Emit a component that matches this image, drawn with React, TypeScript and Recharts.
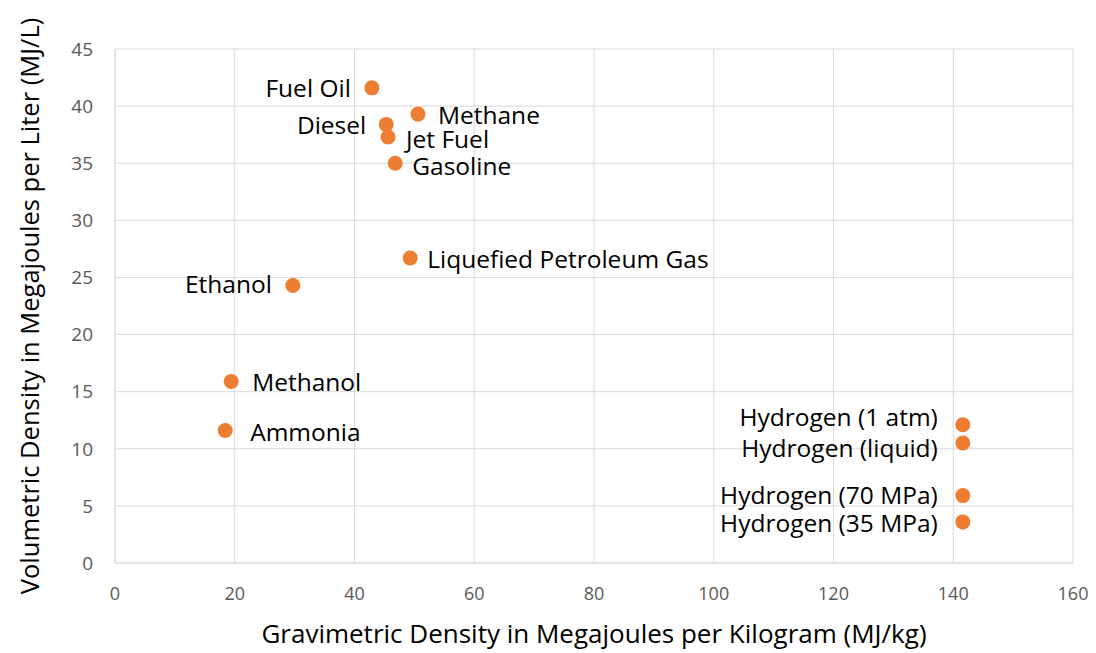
import { ScatterChart, Scatter, XAxis, YAxis, CartesianGrid, LabelList, Label } from 'recharts';

const fuels = [
  'Fuel Oil', 'Methane', 'Diesel', 'Jet Fuel', 'Gasoline', 'Liquefied Petroleum Gas',
  'Ethanol', 'Methanol', 'Ammonia',
  'Hydrogen (1 atm)', 'Hydrogen (liquid)', 'Hydrogen (70 MPa)', 'Hydrogen (35 MPa)',
];
const gravimetric = [42.9, 50.6, 45.3, 45.6, 46.8, 49.3, 29.7, 19.4, 18.4, 141.6, 141.6, 141.6, 141.6];
const volumetric = [41.6, 39.3, 38.4, 37.3, 35.0, 26.7, 24.3, 15.9, 11.6, 12.1, 10.5, 5.9, 3.6];
const xTicks = [0, 20, 40, 60, 80, 100, 120, 140, 160];
const yTicks = [0, 5, 10, 15, 20, 25, 30, 35, 40, 45];

// label placement per point: [dx, dy], negative dx means text sits left of the dot
const labelOffsets: Record<string, [number, number]> = {
  'Fuel Oil': [-21, 0],
  'Methane': [20, 0],
  'Diesel': [-20, 0],
  'Jet Fuel': [18, 2],
  'Gasoline': [17, 2],
  'Liquefied Petroleum Gas': [17, 0],
  'Ethanol': [-21, -2],
  'Methanol': [21, 0],
  'Ammonia': [25, 1],
  'Hydrogen (1 atm)': [-25, -8],
  'Hydrogen (liquid)': [-25, 4],
  'Hydrogen (70 MPa)': [-25, -1],
  'Hydrogen (35 MPa)': [-25, 1],
};

const data = fuels.map((name, i) => ({ name, x: gravimetric[i], y: volumetric[i] }));

const FONT = '"Open Sans", "Liberation Sans", sans-serif';

function PointLabel(props: any) {
  const { x, y, width, height, value } = props;
  const cx = x + width / 2;
  const cy = y + height / 2;
  const [dx, dy] = labelOffsets[value] || [15, 0];
  return (
    <text
      x={cx + dx}
      y={cy + dy}
      textAnchor={dx < 0 ? 'end' : 'start'}
      dominantBaseline="central"
      fontFamily={FONT}
      fontSize={24.5}
      fill="#000"
    >
      {value}
    </text>
  );
}

export default function App() {
  return (
    <div style={{ position: 'absolute', left: 0, top: 0, background: '#fff' }}>
      <ScatterChart width={1096} height={653} margin={{ top: 49, right: 23, bottom: 0, left: 45 }}>
        <CartesianGrid stroke="#d9d9d9" strokeWidth={1} />
        <XAxis
          type="number"
          dataKey="x"
          domain={[0, 160]}
          ticks={xTicks}
          axisLine={{ stroke: '#d9d9d9' }}
          tickLine={false}
          height={90}
          tickMargin={18}
          tick={{ fill: '#595959', fontSize: 18, fontFamily: FONT }}
        >
          <Label
            value="Gravimetric Density in Megajoules per Kilogram (MJ/kg)"
            position="insideBottom"
            offset={10}
            style={{ fill: '#000', fontSize: 26, fontFamily: FONT }}
          />
        </XAxis>
        <YAxis
          type="number"
          dataKey="y"
          domain={[0, 45]}
          ticks={yTicks}
          axisLine={{ stroke: '#d9d9d9' }}
          tickLine={false}
          width={70}
          tickMargin={16}
          tick={{ fill: '#595959', fontSize: 19, fontFamily: FONT }}
        >
          <Label
            value="Volumetric Density in Megajoules per Liter (MJ/L)"
            angle={-90}
            position="insideLeft"
            offset={-15}
            style={{ textAnchor: 'middle', fill: '#000', fontSize: 25.5, fontFamily: FONT }}
          />
        </YAxis>
        <Scatter data={data} fill="#ED7D31" isAnimationActive={false} shape={(p: any) => <circle cx={p.cx} cy={p.cy} r={7.5} fill="#ED7D31" />}>
          <LabelList dataKey="name" content={PointLabel} />
        </Scatter>
      </ScatterChart>
    </div>
  );
}
